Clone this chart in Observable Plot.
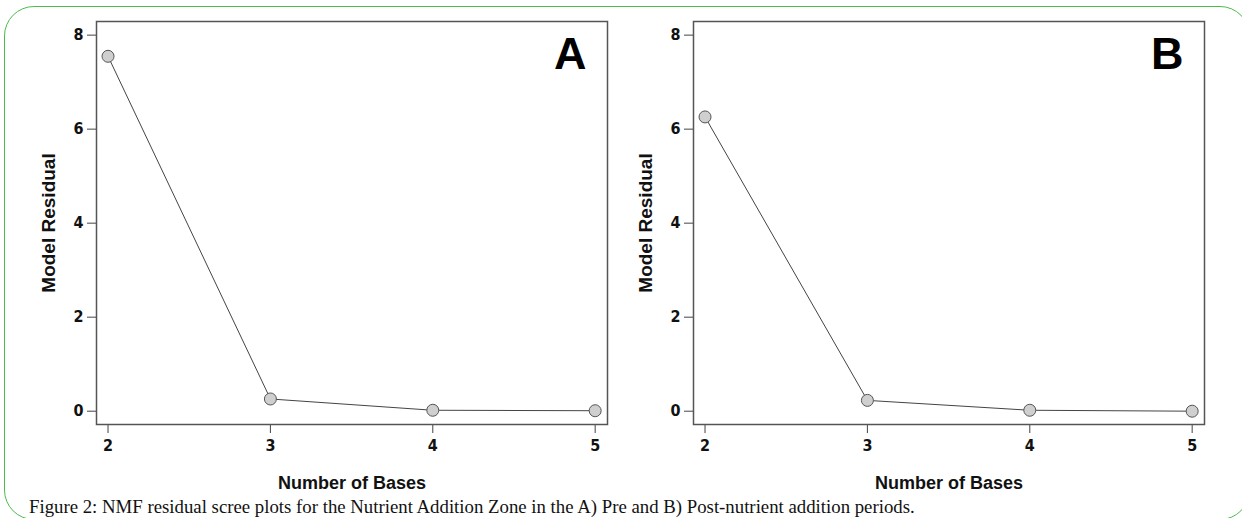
<!DOCTYPE html>
<html>
<head>
<meta charset="utf-8">
<script src="https://cdn.jsdelivr.net/npm/d3@7"></script>
<script src="https://cdn.jsdelivr.net/npm/@observablehq/plot@0.6"></script>
<style>
  html, body { margin: 0; padding: 0; background: #fff; overflow: hidden; }
  #wrap { position: relative; width: 1242px; height: 518px; overflow: hidden; }
  #border { position: absolute; left: 4px; top: 6px; width: 1246px; height: 514px;
            border: 1.5px solid #4cbb4c; border-radius: 30px; box-sizing: border-box; }
  .panel { position: absolute; top: 0; }
  #caption { position: absolute; left: 29px; top: 495px; font-family: "Liberation Serif", "DejaVu Serif", serif;
             font-size: 18.8px; color: #111; white-space: nowrap; line-height: 24px; }
</style>
</head>
<body>
<div id="wrap">
  <div id="border"></div>
  <div id="panelA" class="panel" style="left:0px"></div>
  <div id="panelB" class="panel" style="left:597px"></div>
  <div id="caption">Figure 2: NMF residual scree plots for the Nutrient Addition Zone in the A) Pre and B) Post-nutrient addition periods.</div>
</div>
<script>
const bases = [2, 3, 4, 5];
const residualA = [7.55, 0.26, 0.02, 0.01];
const residualB = [6.26, 0.23, 0.02, 0.0];
const yTicks = [0, 2, 4, 6, 8];
const panelLetters = ["A", "B"];
const xLabel = "Number of Bases";
const yLabel = "Model Residual";

const tickFont = 'bold 16px "Liberation Sans Narrow", "DejaVu Sans Condensed", "Liberation Sans", sans-serif';

function panel(values, letter, marginLeft) {
  const data = bases.map((b, i) => ({b, r: values[i]}));
  const svg = Plot.plot({
    width: marginLeft + 511 + 14,
    height: 500,
    marginLeft,
    marginRight: 14,
    marginTop: 21,
    marginBottom: 76,
    style: {background: "transparent", color: "#111", overflow: "visible"},
    x: {domain: [1.929, 5.076], ticks: bases, tickFormat: d3.format("d")},
    y: {domain: [-0.283, 8.29], ticks: yTicks},
    marks: [
      Plot.axisX({ticks: bases, tickFormat: d3.format("d"), tickSize: 9, tickPadding: 6,
        fontSize: 16, fontWeight: "bold", stroke: "#444", label: null}),
      Plot.axisY({ticks: yTicks, tickSize: 9, tickPadding: 4,
        fontSize: 16, fontWeight: "bold", stroke: "#444", label: null}),
      Plot.text([xLabel], {frameAnchor: "bottom", dy: 64, text: d => d, fontSize: 18, fontWeight: "bold",
        fontFamily: "Liberation Sans, Arial, sans-serif", fill: "#111"}),
      Plot.text([yLabel], {frameAnchor: "left", dx: -48, rotate: -90, textAnchor: "middle", text: d => d,
        fontSize: 19, fontWeight: "bold", fontFamily: "Liberation Sans, Arial, sans-serif", fill: "#111"}),
      Plot.frame({stroke: "#555", strokeWidth: 1.5}),
      Plot.line(data, {x: "b", y: "r", stroke: "#444", strokeWidth: 1}),
      Plot.dot(data, {x: "b", y: "r", r: 6, fill: "#cfcfcf", stroke: "#555", strokeWidth: 1}),
      Plot.text([letter], {frameAnchor: "top-right", dx: -21, dy: 16, lineAnchor: "top", text: d => d,
        fontSize: 45, fontWeight: "bold", fontFamily: "Liberation Sans, Arial, sans-serif", fill: "#000"})
    ]
  });
  svg.querySelectorAll('g[aria-label*="tick label"] text').forEach(t => {
    t.style.font = tickFont;
  });
  svg.querySelectorAll('g[aria-label*="tick label"]').forEach(g => {
    g.style.font = tickFont;
  });
  return svg;
}

document.getElementById("panelA").appendChild(panel(residualA, panelLetters[0], 96));
document.getElementById("panelB").appendChild(panel(residualB, panelLetters[1], 96));
</script>
</body>
</html>
